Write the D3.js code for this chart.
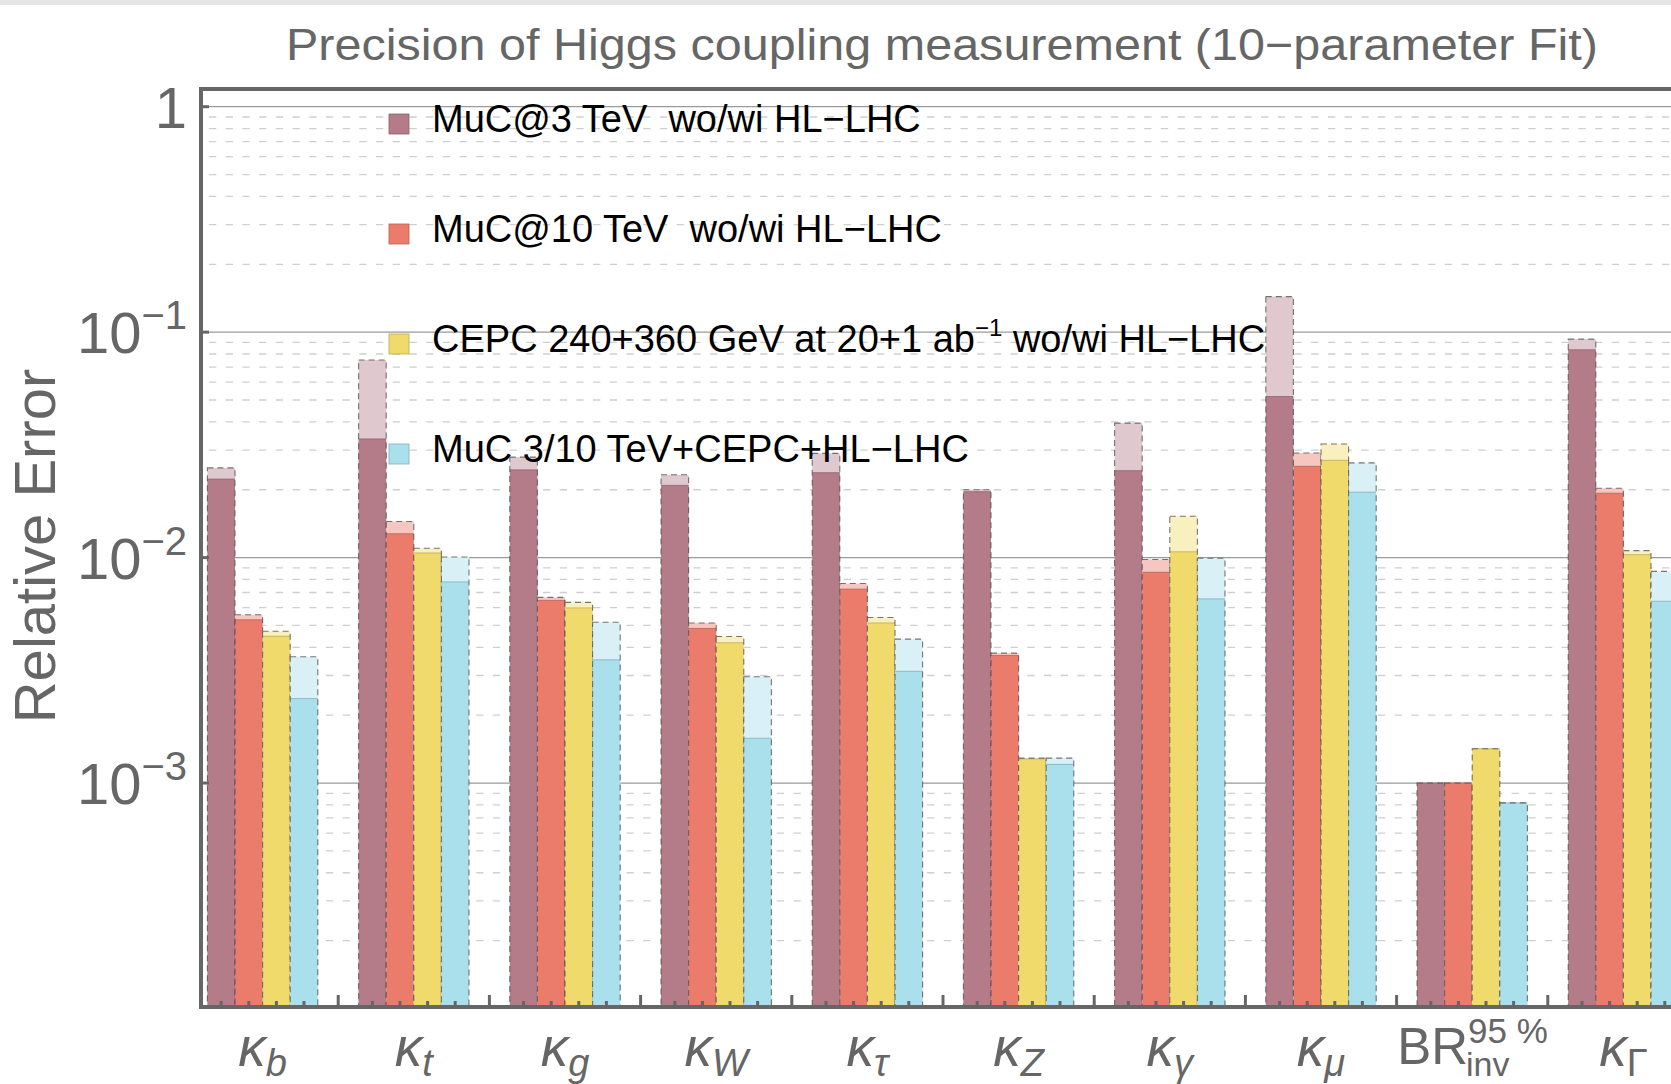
<!DOCTYPE html>
<meta charset="utf-8">
<head>
  <title>Precision of Higgs coupling measurement</title>
</head>
<style>
  body { margin: 0; background: #fff; }
  svg { display: block; font-family: "Liberation Sans", Arial, sans-serif; }
</style>
<body>
<svg width="1671" height="1084"></svg>
<script src="https://cdnjs.cloudflare.com/ajax/libs/d3/7.8.5/d3.min.js"></script>
<script>

// categories (label base + subscript)
var categories = ["kb", "kt", "kg", "kW", "ktau", "kZ", "kgamma", "kmu", "BRinv", "kGamma"];
var labelBase = ["κ", "κ", "κ", "κ", "κ", "κ", "κ", "κ", "BR", "κ"];
var labelSub  = ["b", "t", "g", "W", "τ", "Z", "γ", "μ", "inv", "Γ"];

var seriesNames = ["MuC@3 TeV\u00a0 wo/wi HL\u2212LHC", "MuC@10 TeV\u00a0 wo/wi HL\u2212LHC",
                   "CEPC 240+360 GeV at 20+1 ab", "MuC 3/10 TeV+CEPC+HL\u2212LHC"];

// without HL-LHC (light top) / with HL-LHC (solid)
var muc3_wo  = [0.0250, 0.0752, 0.0279, 0.0233, 0.0290, 0.0200, 0.0395, 0.1438, 0.0010, 0.0931];
var muc3_wi  = [0.0223, 0.0336, 0.0245, 0.0209, 0.0238, 0.0196, 0.0243, 0.0518, 0.0010, 0.0835];
var muc10_wo = [0.00558, 0.01446, 0.00666, 0.00513, 0.00767, 0.00377, 0.00981, 0.0291, 0.0010, 0.0203];
var muc10_wi = [0.00530, 0.01276, 0.00646, 0.00485, 0.00725, 0.00368, 0.00861, 0.0254, 0.0010, 0.0193];
var cepc_wo  = [0.00471, 0.0110, 0.00633, 0.00447, 0.00542, 0.00129, 0.01525, 0.0319, 0.00142, 0.01074];
var cepc_wi  = [0.00448, 0.01048, 0.00598, 0.00419, 0.00513, 0.00128, 0.01061, 0.0270, 0.00142, 0.0103];
var comb_wo  = [0.00363, 0.01006, 0.00517, 0.00296, 0.00435, 0.00129, 0.00994, 0.0263, 0.000817, 0.00869];
var comb_wi  = [0.00237, 0.0078, 0.00352, 0.00158, 0.00313, 0.00121, 0.00656, 0.0195, 0.000817, 0.0064];

var woValues = [muc3_wo, muc10_wo, cepc_wo, comb_wo];
var wiValues = [muc3_wi, muc10_wi, cepc_wi, comb_wi];

var solidColors = ["#b47c88", "#eb7c6c", "#f0da6c", "#aadfec"];
var lightColors = ["#e0c8cf", "#f6c6c0", "#f9f0c0", "#d9f0f6"];

var yTicks = [1, 1e-1, 1e-2, 1e-3];

var svg = d3.select("svg"),
    width = +svg.attr("width"),
    height = +svg.attr("height");

var frame = {left: 201, top: 89, bottom: 1007};

svg.append("rect").attr("width", width).attr("height", height).attr("fill", "#fff");
svg.append("rect").attr("width", width).attr("height", 5).attr("fill", "#e6e6e6");

var y = d3.scaleLog()
    .domain([1e-4, 1])
    .range([1008.5, 106.7]);

var x = d3.scaleBand()
    .domain(categories)
    .range([187, 1699])
    .paddingInner(0.27)
    .paddingOuter(0.135);

var xs = d3.scaleBand()
    .domain(d3.range(4))
    .range([0, x.bandwidth()]);

svg.append("clipPath").attr("id", "plotclip")
  .append("rect")
    .attr("x", frame.left + 2).attr("y", frame.top)
    .attr("width", width - frame.left).attr("height", frame.bottom - frame.top);

var plot = svg.append("g").attr("clip-path", "url(#plotclip)");

// grid lines
var minor = [];
for (var e = -4; e <= -1; e++) {
  for (var k = 2; k <= 9; k++) minor.push(k * Math.pow(10, e));
}
plot.selectAll(".minor").data(minor).enter().append("line")
    .attr("class", "minor")
    .attr("x1", frame.left + 8).attr("x2", width)
    .attr("y1", function(d) { return y(d); })
    .attr("y2", function(d) { return y(d); })
    .attr("stroke", "#cfcfcf")
    .attr("stroke-width", 1.3)
    .attr("stroke-dasharray", "7.3,9.4");

plot.selectAll(".major").data(yTicks).enter().append("line")
    .attr("class", "major")
    .attr("x1", frame.left).attr("x2", width)
    .attr("y1", function(d) { return y(d); })
    .attr("y2", function(d) { return y(d); })
    .attr("stroke", "#9a9a9a")
    .attr("stroke-width", 1.3);

// bars
var bars = [];
categories.forEach(function(c, i) {
  for (var j = 0; j < 4; j++) {
    bars.push({cat: c, s: j, wo: woValues[j][i], wi: wiValues[j][i]});
  }
});

var bg = plot.selectAll(".bar").data(bars).enter().append("g").attr("class", "bar")
    .attr("transform", function(d) { return "translate(" + (x(d.cat) + xs(d.s)) + ",0)"; });

bg.append("rect")
    .attr("y", function(d) { return y(d.wo); })
    .attr("width", xs.bandwidth())
    .attr("height", function(d) { return frame.bottom - y(d.wo); })
    .attr("fill", function(d) { return lightColors[d.s]; });

bg.append("rect")
    .attr("y", function(d) { return y(d.wi); })
    .attr("width", xs.bandwidth())
    .attr("height", function(d) { return frame.bottom - y(d.wi); })
    .attr("fill", function(d) { return solidColors[d.s]; });

bg.append("line")
    .attr("x1", 0).attr("x2", xs.bandwidth())
    .attr("y1", function(d) { return y(d.wi); })
    .attr("y2", function(d) { return y(d.wi); })
    .attr("stroke", function(d) { return d3.color(solidColors[d.s]).darker(0.8); })
    .attr("stroke-width", 1)
    .attr("opacity", 0.7);

bg.append("rect")
    .attr("y", function(d) { return y(d.wo); })
    .attr("width", xs.bandwidth())
    .attr("height", function(d) { return frame.bottom - y(d.wo); })
    .attr("fill", "none")
    .attr("stroke", "#4a4a4a")
    .attr("stroke-width", 1.1)
    .attr("stroke-dasharray", "6,4")
    .attr("opacity", 0.75);

// frame
var axisColor = "#666";
svg.append("line")
    .attr("x1", frame.left).attr("x2", width)
    .attr("y1", frame.top).attr("y2", frame.top)
    .attr("stroke", axisColor).attr("stroke-width", 4);
svg.append("line")
    .attr("x1", frame.left).attr("x2", frame.left)
    .attr("y1", frame.top - 2).attr("y2", frame.bottom + 2)
    .attr("stroke", axisColor).attr("stroke-width", 4);
svg.append("line")
    .attr("x1", frame.left - 2).attr("x2", width)
    .attr("y1", frame.bottom).attr("y2", frame.bottom)
    .attr("stroke", axisColor).attr("stroke-width", 4);

// y ticks
svg.selectAll(".ytick").data(yTicks).enter().append("line")
    .attr("x1", frame.left).attr("x2", frame.left + 8)
    .attr("y1", function(d) { return y(d); })
    .attr("y2", function(d) { return y(d); })
    .attr("stroke", axisColor).attr("stroke-width", 3);

var ylab = svg.selectAll(".ylab").data(yTicks).enter().append("text")
    .attr("x", 187)
    .attr("y", function(d) { return y(d) + 21; })
    .attr("text-anchor", "end")
    .attr("fill", axisColor)
    .style("font-size", "58px");
ylab.each(function(d) {
  var t = d3.select(this);
  var ex = Math.round(Math.log10(d));
  if (ex === 0) { t.text("1"); return; }
  t.append("tspan").text("10");
  t.append("tspan").attr("dy", -24).style("font-size", "40px").text("\u2212" + (-ex));
});

// x ticks
svg.selectAll(".xminor").data(bars).enter().append("line")
    .attr("x1", function(d) { return x(d.cat) + xs(d.s) + xs.bandwidth() / 2; })
    .attr("x2", function(d) { return x(d.cat) + xs(d.s) + xs.bandwidth() / 2; })
    .attr("y1", frame.bottom).attr("y2", frame.bottom - 6)
    .attr("stroke", axisColor).attr("stroke-width", 3);

var gapHalf = (x.step() - x.bandwidth()) / 2;
svg.selectAll(".xmajor").data(categories.slice(1)).enter().append("line")
    .attr("x1", function(d) { return x(d) - gapHalf; })
    .attr("x2", function(d) { return x(d) - gapHalf; })
    .attr("y1", frame.bottom).attr("y2", frame.bottom - 12)
    .attr("stroke", axisColor).attr("stroke-width", 3);

// x labels
var xl = svg.selectAll(".xlab").data(categories).enter().append("text")
    .attr("x", function(d) { return x(d) + x.bandwidth() / 2; })
    .attr("y", 1066)
    .attr("text-anchor", "middle")
    .attr("fill", axisColor);
xl.each(function(d, i) {
  var t = d3.select(this);
  if (d === "BRinv") {
    t.attr("text-anchor", "start").attr("x", x(d) + x.bandwidth() / 2 - 75).attr("y", 1064);
    t.append("tspan").style("font-size", "51px").text("BR");
    var sup = t.append("tspan").attr("dy", -21).style("font-size", "35px").text("95 %");
    var w = sup.node().getComputedTextLength();
    t.append("tspan").attr("dx", -w - 2).attr("dy", 33).style("font-size", "34px").text(labelSub[i]);
    return;
  }
  t.append("tspan").style("font-size", "55px").style("font-style", "italic").text(labelBase[i]);
  t.append("tspan").attr("dy", 10).style("font-size", "38px")
      .style("font-style", labelSub[i] === "Γ" ? "normal" : "italic")
      .text(labelSub[i]);
});

// title + axis title
svg.append("text")
    .attr("x", 286).attr("y", 60)
    .attr("fill", axisColor)
    .attr("textLength", 1312)
    .attr("lengthAdjust", "spacingAndGlyphs")
    .style("font-size", "44px")
    .text("Precision of Higgs coupling measurement (10\u2212parameter Fit)");

svg.append("text")
    .attr("transform", "translate(55,546) rotate(-90)")
    .attr("text-anchor", "middle")
    .attr("fill", axisColor)
    .style("font-size", "58px")
    .text("Relative Error");

// legend
var legendY = [124, 234, 344, 454];
var lg = svg.selectAll(".legend").data(seriesNames).enter().append("g")
    .attr("transform", function(d, i) { return "translate(389," + legendY[i] + ")"; });

lg.append("rect")
    .attr("x", 0).attr("y", -10)
    .attr("width", 20).attr("height", 20)
    .attr("fill", function(d, i) { return solidColors[i]; })
    .attr("stroke", function(d, i) { return d3.color(solidColors[i]).darker(0.7); })
    .attr("stroke-width", 0.8);

var lt = lg.append("text")
    .attr("x", 43).attr("y", 8)
    .attr("fill", "#000")
    .style("font-size", "38px");
lt.each(function(d, i) {
  var t = d3.select(this);
  t.append("tspan").text(d);
  if (i === 2) {
    t.append("tspan").attr("dy", -16).style("font-size", "24px").text("\u22121");
    t.append("tspan").attr("dy", 16).text(" wo/wi HL\u2212LHC");
  }
});

</script>
</body>
</html>
